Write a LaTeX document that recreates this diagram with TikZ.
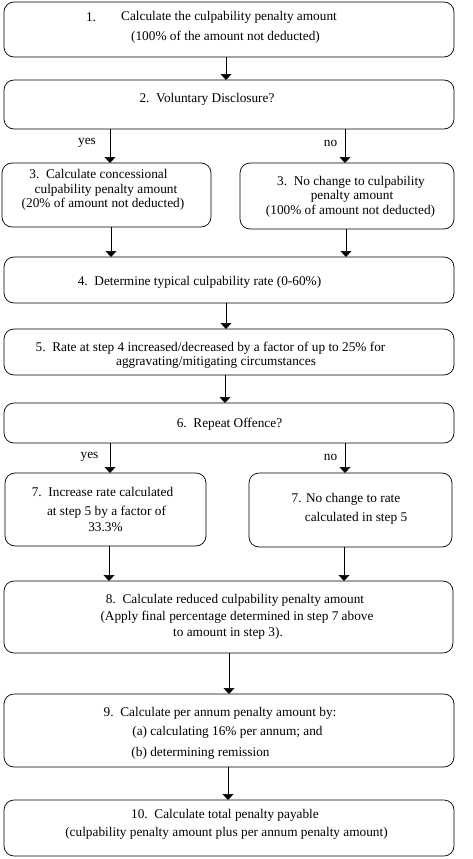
\documentclass[tikz,border=0pt]{standalone}
\usepackage{fontspec}
\setmainfont{Liberation Serif}
\usetikzlibrary{arrows.meta}
\begin{document}
\begin{tikzpicture}[x=1pt,y=-1pt,
  box/.style={draw=black,line width=0.7pt,rounded corners=10pt,inner sep=0pt,outer sep=0pt},
  txt/.style={inner sep=0pt,font=\fontsize{13.3}{15}\selectfont},
  arr/.style={line width=0.7pt,-{Triangle[width=11pt,length=6pt]}}]
\useasboundingbox (0,0) rectangle (472,859);
% boxes
\node[box,minimum width=450pt,minimum height=55pt] (b1) at (229,29.5) {};
\node[box,minimum width=450pt,minimum height=49pt] (b2) at (229,104.5) {};
\node[box,minimum width=209pt,minimum height=64pt] (b3l) at (106.5,195) {};
\node[box,minimum width=214pt,minimum height=66pt] (b3r) at (347,196) {};
\node[box,minimum width=450pt,minimum height=46pt] (b4) at (229,280) {};
\node[box,minimum width=450pt,minimum height=46pt] (b5) at (229,352) {};
\node[box,minimum width=450pt,minimum height=40pt] (b6) at (229,423) {};
\node[box,minimum width=201pt,minimum height=73pt] (b7l) at (105.5,509.5) {};
\node[box,minimum width=203pt,minimum height=74pt] (b7r) at (350.5,510) {};
\node[box,minimum width=449pt,minimum height=72pt] (b8) at (228.5,617) {};
\node[box,minimum width=450pt,minimum height=73pt] (b9) at (229,730.5) {};
\node[box,minimum width=450pt,minimum height=56pt] (b10) at (229,828) {};
% texts
\node[txt] (t1a) at (91,17) {1.};
\node[txt] (t1b) at (229,17) {Calculate the culpability penalty amount};
\node[txt] (t1c) at (225.5,37) {(100\% of the amount not deducted)};
\node[txt] (t2) at (207,99) {2.\ \ Voluntary Disclosure?};
\node[txt] (t3la) at (98.5,174) {3.\ \ Calculate concessional};
\node[txt] (t3lb) at (106,190) {culpability penalty amount};
\node[txt] (t3lc) at (103,204) {(20\% of amount not deducted)};
\node[txt] (t3ra) at (351,182) {3.\ \ No change to culpability};
\node[txt] (t3rb) at (352,196) {penalty amount};
\node[txt] (t3rc) at (350.5,211) {(100\% of amount not deducted)};
\node[txt] (t4) at (199.5,282) {4.\ \ Determine typical culpability rate (0-60\%)};
\node[txt] (t5a) at (210.5,348) {5.\ \ Rate at step 4 increased/decreased by a factor of up to 25\% for};
\node[txt] (t5b) at (216,363) {aggravating/mitigating circumstances};
\node[txt] (t6) at (229.5,424) {6.\ \ Repeat Offence?};
\node[txt] (t7la) at (102.5,492) {7.\ \ Increase rate calculated};
\node[txt] (t7lb) at (106.5,512) {at step 5 by a factor of};
\node[txt] (t7lc) at (105.5,527) {33.3\%};
\node[txt] (t7ra) at (346,499) {7. No change to rate};
\node[txt] (t7rb) at (356,518) {calculated in step 5};
\node[txt] (t8a) at (235,600) {8.\ \ Calculate reduced culpability penalty amount};
\node[txt] (t8b) at (237,617) {(Apply final percentage determined in step 7 above};
\node[txt] (t8c) at (228,633) {to amount in step 3).};
\node[txt] (t9a) at (220,713) {9.\ \ Calculate per annum penalty amount by:};
\node[txt] (t9b) at (227.5,732) {(a) calculating 16\% per annum; and};
\node[txt] (t9c) at (200.5,753) {(b) determining remission};
\node[txt] (t10a) at (225,815) {10.\ \ Calculate total penalty payable};
\node[txt] (t10b) at (226.5,833) {(culpability penalty amount plus per annum penalty amount)};
% labels
\node[txt] (y1) at (87,143) {yes};
\node[txt] (n1) at (330.5,143) {no};
\node[txt] (y2) at (89.5,457) {yes};
\node[txt] (n2) at (330.5,457) {no};
% arrows
\draw[arr] ([xshift=-3pt]b1.south) -- ([xshift=-3pt]b2.north);
\draw[arr] ([xshift=-119pt]b2.south) -- ([xshift=3.5pt]b3l.north);
\draw[arr] ([xshift=116pt]b2.south) -- ([xshift=-2pt]b3r.north);
\draw[arr] ([xshift=4.5pt]b3l.south) -- ([xshift=-118pt]b4.north);
\draw[arr] ([xshift=-1pt]b3r.south) -- ([xshift=117pt]b4.north);
\draw[arr] ([xshift=-3pt]b4.south) -- ([xshift=-3pt]b5.north);
\draw[arr] ([xshift=-4pt]b5.south) -- ([xshift=-4pt]b6.north);
\draw[arr] ([xshift=-119pt]b6.south) -- ([xshift=4.5pt]b7l.north);
\draw[arr] ([xshift=116pt]b6.south) -- ([xshift=-5.5pt]b7r.north);
\draw[arr] ([xshift=3.5pt]b7l.south) -- ([xshift=-119.5pt]b8.north);
\draw[arr] ([xshift=-6.5pt]b7r.south) -- ([xshift=115.5pt]b8.north);
\draw[arr] ([xshift=0.5pt]b8.south) -- (b9.north);
\draw[arr] ([xshift=-1pt]b9.south) -- ([xshift=-1pt]b10.north);
\end{tikzpicture}
\end{document}
